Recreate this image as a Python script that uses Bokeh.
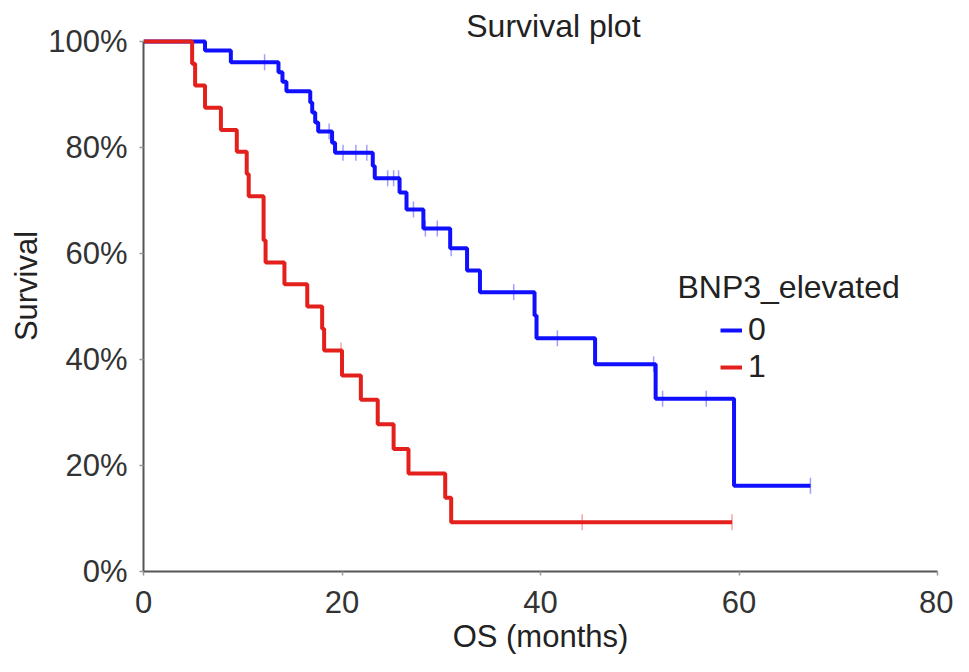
import numpy as np
from bokeh.plotting import figure
from bokeh.models import Range1d, Legend, LegendItem, Label, NumeralTickFormatter
from bokeh.embed import file_html
from bokeh.resources import INLINE

# Kaplan-Meier curves (months, survival fraction)
groups = ["0", "1"]

time_0 = [0, 6.2, 8.8, 13.6, 14.0, 14.4, 16.8, 17.0, 17.3, 17.6, 19.0, 19.3,
          23.1, 23.3, 25.8, 26.5, 28.2, 30.9, 32.6, 33.9, 39.4, 39.6, 45.5,
          51.6, 59.5, 67.2]
surv_0 = [1.0, 0.983, 0.961, 0.942, 0.924, 0.906, 0.885, 0.866, 0.847, 0.830,
          0.809, 0.790, 0.765, 0.742, 0.715, 0.683, 0.647, 0.610, 0.568, 0.527,
          0.483, 0.440, 0.391, 0.326, 0.162, 0.162]
cens_0 = [12.2, 18.7, 20.1, 21.4, 22.5, 24.6, 25.2, 25.7, 27.2, 28.4, 29.6,
          31.0, 37.3, 41.7, 51.4, 52.3, 56.7, 67.2]

time_1 = [0, 4.9, 5.2, 6.2, 7.8, 9.4, 10.4, 10.6, 12.1, 12.3, 14.2, 16.5,
          18.0, 18.2, 20.0, 21.9, 23.6, 25.2, 26.7, 30.4, 31.0, 59.3]
surv_1 = [1.0, 0.958, 0.917, 0.875, 0.833, 0.792, 0.750, 0.708, 0.625, 0.583,
          0.542, 0.500, 0.458, 0.417, 0.370, 0.324, 0.278, 0.231, 0.185, 0.139,
          0.093, 0.093]
cens_1 = [19.9, 44.2, 59.3]

x_ticks = [0, 20, 40, 60, 80]
y_ticks = [0, 0.2, 0.4, 0.6, 0.8, 1.0]

FONT = "Liberation Sans"
BLUE = "#1010ff"
RED = "#e3201c"
AXIS = "#555555"


def surv_at(times, surv, t):
    # height of the step curve at time t
    idx = np.searchsorted(times, t, side="right") - 1
    return [surv[i] for i in idx]


# frame runs up to the top edge so the title label is not clipped
p = figure(width=953, height=656,
           x_range=Range1d(0, 80), y_range=Range1d(0, 1.0774),
           output_backend="svg", toolbar_location=None,
           min_border_left=143, min_border_right=16,
           min_border_top=0, min_border_bottom=85)

p.outline_line_color = None
p.xgrid.grid_line_color = None
p.ygrid.grid_line_color = None

r0 = p.step(time_0, surv_0, mode="after", line_color=BLUE, line_width=4)
r1 = p.step(time_1, surv_1, mode="after", line_color=RED, line_width=4)

# censor marks
p.scatter(cens_0, surv_at(time_0, surv_0, cens_0), marker="dash",
          angle=np.pi / 2, size=16, line_color=BLUE, line_alpha=0.4,
          line_width=1.5)
p.scatter(cens_1, surv_at(time_1, surv_1, cens_1), marker="dash",
          angle=np.pi / 2, size=16, line_color=RED, line_alpha=0.4,
          line_width=1.5)

# axes
p.xaxis.ticker = x_ticks
p.yaxis.ticker = y_ticks
p.yaxis.formatter = NumeralTickFormatter(format="0%")
p.yaxis.bounds = (0, 1)
p.xaxis.axis_label = "OS (months)"
p.yaxis.axis_label = "Survival"
for ax in (p.xaxis, p.yaxis):
    ax.axis_line_color = AXIS
    ax.axis_line_width = 2
    ax.major_tick_line_color = "#999999"
    ax.major_tick_line_width = 1.5
    ax.major_tick_out = 4
    ax.major_tick_in = 0
    ax.minor_tick_line_color = None
    ax.major_label_text_font = FONT
    ax.major_label_text_font_size = "31px"
    ax.major_label_text_color = "#333333"
    ax.axis_label_text_font = FONT
    ax.axis_label_text_font_size = "31px"
    ax.axis_label_text_font_style = "normal"
    ax.axis_label_text_color = "#222222"
p.xaxis.major_label_text_line_height = 0.6
p.xaxis.axis_label_text_line_height = 0.6
p.xaxis.major_label_standoff = 15
p.xaxis.axis_label_standoff = 3
p.yaxis.major_label_standoff = 12
p.yaxis.axis_label_standoff = 1

# title
p.add_layout(Label(x=41.3, y=1.030, text="Survival plot", text_align="center",
                   text_baseline="middle", text_font=FONT,
                   text_font_size="32px", text_color="#222222"))

# legend
p.add_layout(Label(x=53.8, y=0.537, text="BNP3_elevated", text_align="left",
                   text_baseline="middle", text_font=FONT,
                   text_font_size="32px", text_color="#222222"))
legend = Legend(items=[LegendItem(label=groups[0], renderers=[r0]),
                       LegendItem(label=groups[1], renderers=[r1])],
                location=(577, 186), padding=0, margin=0, spacing=0,
                glyph_width=22, label_standoff=6,
                label_text_font=FONT, label_text_font_size="32px",
                label_text_color="#222222",
                border_line_color=None, background_fill_alpha=0)
p.add_layout(legend)

open("out.html", "w").write(file_html(p, INLINE))
